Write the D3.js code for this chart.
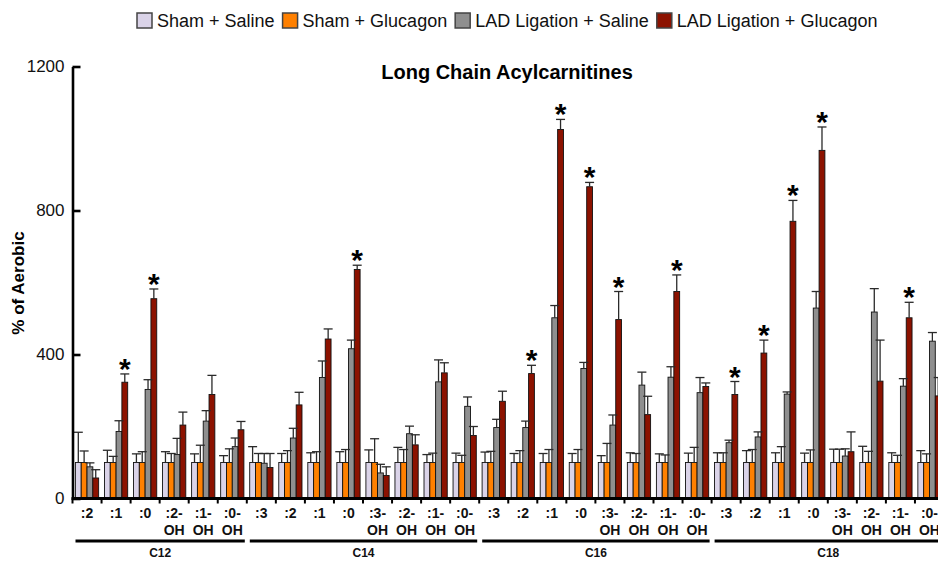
<!DOCTYPE html>
<html>
<head>
<meta charset="utf-8">
<script src="https://cdn.jsdelivr.net/npm/d3@7"></script>
<style>
  html, body { margin: 0; padding: 0; background: #fff; }
  svg { display: block; font-family: Arial, "Liberation Sans", Helvetica, sans-serif; }
</style>
</head>
<body>
<svg id="chart" width="938" height="561"></svg>
<script>
// ---- Data ----
const groups = ["C12", "C14", "C16", "C18"];
const c12Labels = [":2", ":1", ":0", ":2-OH", ":1-OH", ":0-OH"];
const c14Labels = [":3", ":2", ":1", ":0", ":3-OH", ":2-OH", ":1-OH", ":0-OH"];
const c16Labels = [":3", ":2", ":1", ":0", ":3-OH", ":2-OH", ":1-OH", ":0-OH"];
const c18Labels = [":3", ":2", ":1", ":0", ":3-OH", ":2-OH", ":1-OH", ":0-OH"];
const seriesNames = ["Sham + Saline", "Sham + Glucagon", "LAD Ligation + Saline", "LAD Ligation + Glucagon"];
const seriesColors = ["#dad3e8", "#ff8000", "#8f8f8f", "#8c1200"];

//                C12: :2 :1 :0 :2OH :1OH :0OH | C14 :3 :2 :1 :0 :3OH :2OH :1OH :0OH | C16 ... | C18 ...
const shamSaline     = [100,100,100,100,100,100, 100,100,100,100,100,100,100,100, 100,100,100,100,100,100,100,100, 100,100,100,100,100,100,100,100];
const shamSalineErr  = [84,34,24,30,24,19,      44,25,27,30,35,42,22,26,       29,25,25,25,19,27,24,26,       27,33,27,26,37,45,27,33];
const shamGlucagon   = [100,100,100,100,100,100, 100,100,100,100,100,100,100,100, 100,100,100,100,100,100,100,100, 100,100,100,100,100,100,100,100];
const shamGlucagonErr= [32,17,30,25,48,38,      25,33,30,36,66,36,26,20,       31,33,36,36,53,25,21,42,       27,36,44,35,37,31,20,24];
const ladSaline      = [88,186,303,122,215,144, 98,168,336,416,71,180,324,256, 197,197,502,361,204,315,337,294, 155,171,290,529,118,518,312,437];
const ladSalineErr   = [11,30,27,45,29,24,      27,27,46,24,24,21,61,26,       23,18,34,17,28,36,29,42,       7,14,6,46,20,65,21,24];
const ladGlucagon    = [57,323,555,204,289,191, 86,260,443,636,64,149,349,175, 270,347,1025,866,497,233,575,311, 289,404,770,967,130,326,502,285];
const ladGlucagonErr = [23,23,27,36,53,23,      39,35,28,12,24,28,28,25,       28,23,28,12,78,51,46,10,       36,36,58,65,55,114,43,51];
const significant    = [0,1,1,0,0,0,            0,0,0,1,0,0,0,0,               0,1,1,1,1,0,1,0,               1,1,1,1,0,0,1,0];
const yTicks = [0, 400, 800, 1200];

// ---- Build table ----
const groupLabels = { C12: c12Labels, C14: c14Labels, C16: c16Labels, C18: c18Labels };
const categories = [];
groups.forEach(g => groupLabels[g].forEach(l => categories.push({ id: g + " " + l, group: g, label: l })));
const values = [shamSaline, shamGlucagon, ladSaline, ladGlucagon];
const errors = [shamSalineErr, shamGlucagonErr, ladSalineErr, ladGlucagonErr];

const svg = d3.select("#chart");

// ---- Scales ----
const x0 = d3.scaleBand().domain(categories.map(c => c.id)).range([72.5, 944]).paddingInner(0.2).paddingOuter(0.1);
const step = x0.step();
const x1 = d3.scaleBand().domain(d3.range(4)).range([0, x0.bandwidth()]).padding(0);
const y = d3.scaleLinear().domain([0, 1200]).range([498.5, 66.5]);

// ---- Legend ----
const legend = svg.append("g");
let lx = 137;
seriesNames.forEach((name, i) => {
  legend.append("rect").attr("x", lx).attr("y", 13).attr("width", 15).attr("height", 15)
    .attr("fill", seriesColors[i]).attr("stroke", "#444").attr("stroke-width", 1.5);
  const t = legend.append("text").attr("x", lx + 20).attr("y", 27)
    .attr("font-size", 18).attr("fill", "#111").text(name);
  lx = lx + 20 + t.node().getComputedTextLength() + 8;
});

// ---- Title ----
svg.append("text").attr("x", 507).attr("y", 79).attr("text-anchor", "middle")
  .attr("font-size", 20).attr("font-weight", "bold").text("Long Chain Acylcarnitines");

// ---- Y label ----
svg.append("text").attr("transform", "translate(24,283) rotate(-90)").attr("text-anchor", "middle")
  .attr("font-size", 17).attr("font-weight", "bold").text("% of Aerobic");

// ---- Bars ----
const barG = svg.append("g");
categories.forEach((c, ci) => {
  const g = barG.append("g").attr("transform", `translate(${x0(c.id)},0)`);
  g.selectAll("rect").data(d3.range(4)).join("rect")
    .attr("x", s => x1(s))
    .attr("y", s => y(values[s][ci]))
    .attr("width", x1.bandwidth())
    .attr("height", s => y(0) - y(values[s][ci]))
    .attr("fill", s => seriesColors[s])
    .attr("stroke", "#111").attr("stroke-width", 0.9);
});

// ---- Error bars ----
const errG = svg.append("g").attr("stroke", "#2a2a2a").attr("stroke-width", 1.3);
categories.forEach((c, ci) => {
  d3.range(4).forEach(s => {
    const cx = x0(c.id) + x1(s) + x1.bandwidth() / 2;
    const top = y(values[s][ci] + errors[s][ci]);
    errG.append("line").attr("x1", cx).attr("x2", cx).attr("y1", y(values[s][ci])).attr("y2", top);
    errG.append("line").attr("x1", cx - 4.5).attr("x2", cx + 4.5).attr("y1", top).attr("y2", top);
  });
});

// ---- Significance stars ----
categories.forEach((c, ci) => {
  if (!significant[ci]) return;
  const cx = x0(c.id) + x1(3) + x1.bandwidth() / 2;
  svg.append("text").attr("x", cx).attr("y", y(ladGlucagon[ci] + ladGlucagonErr[ci]) + 5)
    .attr("text-anchor", "middle").attr("font-size", 30).attr("font-weight", "bold").text("*");
});

// ---- Y axis ----
const yAxis = svg.append("g").attr("transform", "translate(72.5,0)")
  .call(d3.axisLeft(y).tickValues(yTicks).tickFormat(d3.format("d")).tickSizeInner(-8).tickSizeOuter(0).tickPadding(8));
yAxis.select(".domain").attr("stroke", "#000").attr("stroke-width", 2.6);
yAxis.selectAll(".tick line").attr("stroke", "#000").attr("stroke-width", 2.6);
yAxis.selectAll(".tick text").attr("font-size", 17).attr("fill", "#111").attr("font-family", "Arial, 'Liberation Sans', sans-serif");

// ---- X axis ----
const xAxis = svg.append("g").attr("transform", `translate(0,${y(0)})`)
  .call(d3.axisBottom(x0).tickSize(0).tickPadding(10).tickFormat(id => id.split(" ")[1]));
xAxis.select(".domain").attr("stroke", "#000").attr("stroke-width", 2.8).attr("d", `M${x0.range()[0] - 1},0H${x0.range()[1]}`);
xAxis.selectAll(".tick text").each(function () {
  const t = d3.select(this);
  const lab = t.text();
  t.text(null).attr("font-size", 14).attr("font-weight", "bold").attr("fill", "#111")
    .attr("font-family", "Arial, 'Liberation Sans', sans-serif");
  if (lab.includes("-")) {
    const parts = lab.split("-");
    t.append("tspan").attr("x", 0).attr("dy", "0.71em").text(parts[0] + "-");
    t.append("tspan").attr("x", 0).attr("dy", "1.15em").text(parts[1]);
  } else {
    t.append("tspan").attr("x", 0).attr("dy", "0.71em").text(lab);
  }
});
// boundary ticks between categories
xAxis.selectAll("line.bound").data(categories).join("line").attr("class", "bound")
  .attr("x1", c => x0(c.id) - x0.paddingOuter() * step).attr("x2", c => x0(c.id) - x0.paddingOuter() * step)
  .attr("y1", 0).attr("y2", 5).attr("stroke", "#000").attr("stroke-width", 2);

// ---- Group underlines and labels ----
groups.forEach(g => {
  const cats = categories.filter(c => c.group === g);
  const start = x0(cats[0].id) - x0.paddingOuter() * step + 3;
  const end = x0(cats[cats.length - 1].id) + x0.bandwidth() + x0.paddingOuter() * step - 2;
  svg.append("line").attr("x1", start).attr("x2", end).attr("y1", 541).attr("y2", 541)
    .attr("stroke", "#000").attr("stroke-width", 3);
  svg.append("text").attr("x", (start + end) / 2).attr("y", 557).attr("text-anchor", "middle")
    .attr("font-size", 12).attr("font-weight", "bold").attr("fill", "#111").text(g);
});
</script>
</body>
</html>
